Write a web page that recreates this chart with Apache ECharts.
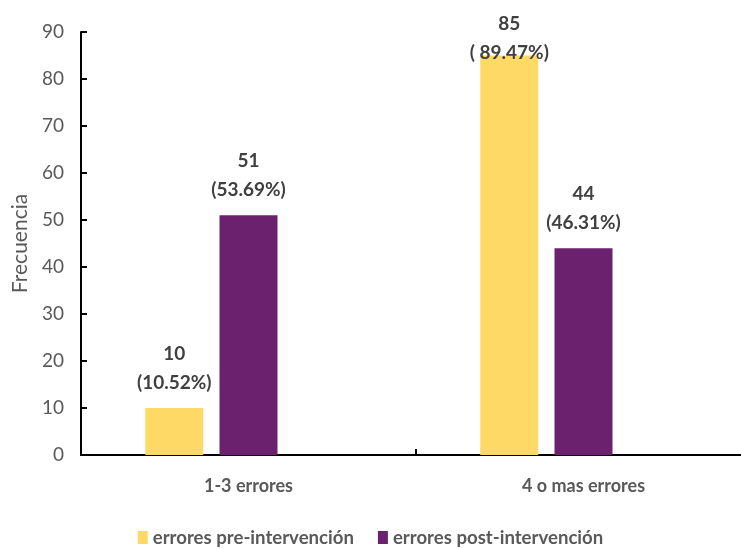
<!DOCTYPE html>
<html><head><meta charset="utf-8">
<script src="https://cdn.jsdelivr.net/npm/echarts@6/dist/echarts.min.js"></script>
<style>html,body{margin:0;padding:0;background:#fff}#c{width:741px;height:549px}</style>
</head><body><div id="c"></div>
<script>
const categories = ['1-3 errores', '4 o mas errores'];
const seriesNames = ['errores pre-intervención', 'errores post-intervención'];
const preValues = [10, 85];
const postValues = [51, 44];
const prePercents = ['(10.52%)', '( 89.47%)'];
const postPercents = ['(53.69%)', '(46.31%)'];
const yTicks = [0, 90, 10];
const colors = ['#FFD966', '#6C216E'];
const FONT = 'Lato';

const labelBase = {
  show: true, position: 'top', distance: 11,
  fontFamily: FONT, fontWeight: 'bold', fontSize: 19, color: '#404040', lineHeight: 29
};
function mk(vals, pcts) {
  return vals.map((v, i) => {
    const d = { value: v, label: { formatter: v + '\n' + pcts[i] } };
    if (v === 85) d.label.offset = [0, 23];
    return d;
  });
}
const chart = echarts.init(document.getElementById('c'));
chart.setOption({
  animation: false,
  grid: { left: 81, top: 32, bottom: 94, right: -10, containLabel: false, outerBoundsMode: 'none' },
  legend: {
    top: 523, left: 'center', itemGap: 24, itemWidth: 10, itemHeight: 13,
    icon: 'rect',
    textStyle: { fontFamily: FONT, fontWeight: 'bold', fontSize: 18.6, color: '#595959' },
    data: seriesNames
  },
  xAxis: {
    type: 'category', data: categories,
    axisLine: { lineStyle: { color: '#000', width: 2 } },
    axisTick: { show: true, inside: true, length: 6, lineStyle: { color: '#000', width: 2 } },
    axisLabel: { fontFamily: FONT, fontWeight: 'bold', fontSize: 18, color: '#595959', margin: 22 }
  },
  yAxis: {
    type: 'value', min: yTicks[0], max: yTicks[1], interval: yTicks[2],
    name: 'Frecuencia', nameLocation: 'middle', nameGap: 41, nameRotate: 90,
    nameTextStyle: { fontFamily: FONT, fontSize: 21, color: '#595959' },
    axisLine: { show: true, lineStyle: { color: '#000', width: 2 } },
    axisTick: { show: true, inside: true, length: 6, lineStyle: { color: '#000', width: 2 } },
    splitLine: { show: false },
    axisLabel: { fontFamily: FONT, fontSize: 19, color: '#595959', margin: 17 }
  },
  series: [
    { name: seriesNames[0], type: 'bar', data: mk(preValues, prePercents), barWidth: 58, barGap: '28%',
      itemStyle: { color: colors[0] }, label: labelBase },
    { name: seriesNames[1], type: 'bar', data: mk(postValues, postPercents), barWidth: 58,
      itemStyle: { color: colors[1] }, label: labelBase },
    { name: 'spacer', type: 'bar', data: [], barWidth: 58, silent: true }
  ]
});
</script></body></html>
